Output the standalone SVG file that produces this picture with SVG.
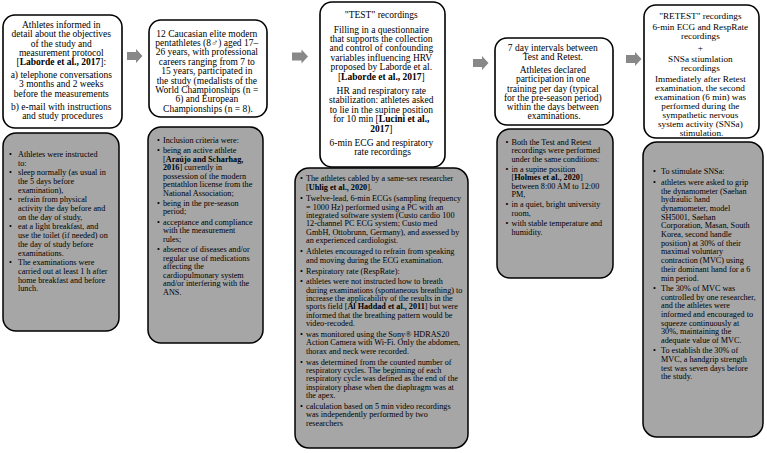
<svg xmlns="http://www.w3.org/2000/svg" width="767" height="453" viewBox="0 0 767 453">
<style>
.wb{fill:#fff;stroke:#000;stroke-width:1.6}
.gb{fill:#a6a6a6;stroke:#000;stroke-width:1.5}
.t{font-family:"Liberation Serif","Times New Roman",serif;font-size:9.5px;fill:#000;text-anchor:middle}
.t2{font-size:9.2px}
.g{font-family:"Liberation Serif","Times New Roman",serif;font-size:8.2px;fill:#000}
.b{font-weight:bold}
.arr{fill:#888}
</style>
<rect width="767" height="453" fill="#fff"/>
<g id="connectors">
<path class="arr" d="M127,52 H136 V49 L142.5,56 L136,63 V60 H127 Z"/>
<path class="arr" d="M292,52.5 H301.5 V49.5 L308,56.5 L301.5,63.5 V60.5 H292 Z"/>
<path class="arr" d="M473,59 H482 V56 L488.5,63 L482,70 V67 H473 Z"/>
<path class="arr" d="M626,55 H635 V52 L641.5,59 L635,66 V63 H626 Z"/>
</g>
<g id="n1">
<rect class="wb" x="3" y="15" width="119" height="113" rx="12"/>
<text class="t">
<tspan x="62.5" y="28.2">Athletes informed in</tspan>
<tspan x="62.5" y="37.4">detail about the objectives</tspan>
<tspan x="62.5" y="46.6">of the study and</tspan>
<tspan x="62.5" y="55.8">measurement protocol</tspan>
<tspan x="62.5" y="65">[<tspan class="b">Laborde et al., 2017</tspan>]:</tspan>
<tspan x="62.5" y="78.2">a) telephone conversations</tspan>
<tspan x="62.5" y="87.4">3 months and 2 weeks</tspan>
<tspan x="62.5" y="96.6">before the measurements</tspan>
<tspan x="62.5" y="109.8">b) e-mail with instructions</tspan>
<tspan x="62.5" y="119">and study procedures</tspan>
</text>
</g>
<g id="n1b">
<rect class="gb" x="3" y="133" width="116" height="198" rx="13"/>
<text class="g">
<tspan x="9" y="156.8">•</tspan><tspan x="18" y="156.8">Athletes were instructed</tspan>
<tspan x="18" y="165.5">to:</tspan>
<tspan x="9" y="175.2">•</tspan><tspan x="18" y="175.2">sleep normally (as usual in</tspan>
<tspan x="18" y="183.9">the 5 days before</tspan>
<tspan x="18" y="192.6">examination),</tspan>
<tspan x="9" y="202.3">•</tspan><tspan x="18" y="202.3">refrain from physical</tspan>
<tspan x="18" y="211">activity the day before and</tspan>
<tspan x="18" y="219.7">on the day of study,</tspan>
<tspan x="9" y="229.4">•</tspan><tspan x="18" y="229.4">eat a light breakfast, and</tspan>
<tspan x="18" y="238.1">use the toilet (if needed) on</tspan>
<tspan x="18" y="246.8">the day of study before</tspan>
<tspan x="18" y="255.5">examinations.</tspan>
<tspan x="9" y="265.2">•</tspan><tspan x="18" y="265.2">The examinations were</tspan>
<tspan x="18" y="273.9">carried out at least 1 h after</tspan>
<tspan x="18" y="282.6">home breakfast and before</tspan>
<tspan x="18" y="291.3">lunch.</tspan>
</text>
</g>
<g id="n2">
<rect class="wb" x="149" y="20" width="118" height="97" rx="12"/>
<text class="t">
<tspan x="208" y="36.5">12 Caucasian elite modern</tspan>
<tspan x="208" y="45.9">pentathletes (8♂) aged 17–</tspan>
<tspan x="208" y="55.3">26 years, with professional</tspan>
<tspan x="208" y="64.7">careers ranging from 7 to</tspan>
<tspan x="208" y="74.1">15 years, participated in</tspan>
<tspan x="208" y="83.5">the study (medalists of the</tspan>
<tspan x="208" y="92.9">World Championships (n =</tspan>
<tspan x="208" y="102.3">6) and European</tspan>
<tspan x="208" y="111.7">Championships (n = 8).</tspan>
</text>
</g>
<g id="n2b">
<rect class="gb" x="148" y="127" width="115" height="216" rx="13"/>
<text class="g">
<tspan x="157" y="142.8">•</tspan><tspan x="163" y="142.8">Inclusion criteria were:</tspan>
<tspan x="157" y="153.1">•</tspan><tspan x="163" y="153.1">being an active athlete</tspan>
<tspan x="163" y="161.6">[<tspan class="b">Araújo and Scharhag,</tspan></tspan>
<tspan x="163" y="170.1"><tspan class="b">2016</tspan>] currently in</tspan>
<tspan x="163" y="178.6">possession of the modern</tspan>
<tspan x="163" y="187.1">pentathlon license from the</tspan>
<tspan x="163" y="195.6">National Association;</tspan>
<tspan x="157" y="205.9">•</tspan><tspan x="163" y="205.9">being in the pre-season</tspan>
<tspan x="163" y="214.4">period;</tspan>
<tspan x="157" y="224.7">•</tspan><tspan x="163" y="224.7">acceptance and compliance</tspan>
<tspan x="163" y="233.2">with the measurement</tspan>
<tspan x="163" y="241.7">rules;</tspan>
<tspan x="157" y="252">•</tspan><tspan x="163" y="252">absence of diseases and/or</tspan>
<tspan x="163" y="260.5">regular use of medications</tspan>
<tspan x="163" y="269">affecting the</tspan>
<tspan x="163" y="277.5">cardiopulmonary system</tspan>
<tspan x="163" y="286">and/or interfering with the</tspan>
<tspan x="163" y="294.5">ANS.</tspan>
</text>
</g>
<g id="n3">
<rect class="wb" x="320" y="2" width="125" height="165" rx="12"/>
<text class="t">
<tspan x="382.5" y="18.2">"TEST" recordings</tspan>
<tspan x="382.5" y="32.6">Filling in a questionnaire</tspan>
<tspan x="382.5" y="42">that supports the collection</tspan>
<tspan x="382.5" y="51.4">and control of confounding</tspan>
<tspan x="382.5" y="60.8">variables influencing HRV</tspan>
<tspan x="382.5" y="70.2">proposed by Laborde et al.</tspan>
<tspan x="382.5" y="79.6">[<tspan class="b">Laborde et al., 2017</tspan>]</tspan>
<tspan x="382.5" y="94">HR and respiratory rate</tspan>
<tspan x="382.5" y="103.4">stabilization: athletes asked</tspan>
<tspan x="382.5" y="112.8">to lie in the supine position</tspan>
<tspan x="382.5" y="122.2">for 10 min [<tspan class="b">Lucini et al.,</tspan></tspan>
<tspan x="382.5" y="131.6"><tspan class="b">2017</tspan>]</tspan>
<tspan x="382.5" y="146">6-min ECG and respiratory</tspan>
<tspan x="382.5" y="155.4">rate recordings</tspan>
</text>
</g>
<g id="n3b">
<rect class="gb" x="295" y="168" width="173" height="280" rx="14"/>
<text class="g">
<tspan x="300" y="181.1">•</tspan><tspan x="306" y="181.1">The athletes cabled by a same-sex researcher</tspan>
<tspan x="306" y="189.8">[<tspan class="b">Uhlig et al., 2020</tspan>].</tspan>
<tspan x="300" y="201.1">•</tspan><tspan x="306" y="201.1">Twelve-lead, 6-min ECGs (sampling frequency</tspan>
<tspan x="306" y="209.5">= 1000 Hz) performed using a PC with an</tspan>
<tspan x="306" y="217.9">integrated software system (Custo cardio 100</tspan>
<tspan x="306" y="226.3">12-channel PC ECG system; Custo med</tspan>
<tspan x="306" y="234.7">GmbH, Ottobrunn, Germany), and assessed by</tspan>
<tspan x="306" y="243.1">an experienced cardiologist.</tspan>
<tspan x="300" y="254.1">•</tspan><tspan x="306" y="254.1">Athletes encouraged to refrain from speaking</tspan>
<tspan x="306" y="262.5">and moving during the ECG examination.</tspan>
<tspan x="300" y="273.5">•</tspan><tspan x="306" y="273.5">Respiratory rate (RespRate):</tspan>
<tspan x="300" y="284.2">•</tspan><tspan x="306" y="284.2">athletes were not instructed how to breath</tspan>
<tspan x="306" y="292.6">during examinations (spontaneous breathing) to</tspan>
<tspan x="306" y="301">increase the applicability of the results in the</tspan>
<tspan x="306" y="309.4">sports field [<tspan class="b">Al Haddad et al., 2011</tspan>] but were</tspan>
<tspan x="306" y="317.8">informed that the breathing pattern would be</tspan>
<tspan x="306" y="326.2">video-recoded.</tspan>
<tspan x="300" y="337">•</tspan><tspan x="306" y="337">was monitored using the Sony® HDRAS20</tspan>
<tspan x="306" y="345.4">Action Camera with Wi-Fi. Only the abdomen,</tspan>
<tspan x="306" y="353.8">thorax and neck were recorded.</tspan>
<tspan x="300" y="364.6">•</tspan><tspan x="306" y="364.6">was determined from the counted number of</tspan>
<tspan x="306" y="373">respiratory cycles. The beginning of each</tspan>
<tspan x="306" y="381.4">respiratory cycle was defined as the end of the</tspan>
<tspan x="306" y="389.8">inspiratory phase when the diaphragm was at</tspan>
<tspan x="306" y="398.2">the apex.</tspan>
<tspan x="300" y="409">•</tspan><tspan x="306" y="409">calculation based on 5 min video recordings</tspan>
<tspan x="306" y="417.4">was independently performed by two</tspan>
<tspan x="306" y="425.8">researchers</tspan>
</text>
</g>
<g id="n4">
<rect class="wb" x="495" y="38" width="118" height="87" rx="12"/>
<text class="t">
<tspan x="554" y="51.2">7 day intervals between</tspan>
<tspan x="554" y="60.4">Test and Retest.</tspan>
<tspan x="554" y="73.2">Athletes declared</tspan>
<tspan x="554" y="82.4">participation in one</tspan>
<tspan x="554" y="91.6">training per day (typical</tspan>
<tspan x="554" y="100.8">for the pre-season period)</tspan>
<tspan x="554" y="110">within the days between</tspan>
<tspan x="554" y="119.2">examinations.</tspan>
</text>
</g>
<g id="n4b">
<rect class="gb" x="497" y="129" width="116" height="149" rx="13"/>
<text class="g">
<tspan x="505.5" y="144.8">•</tspan><tspan x="511.5" y="144.8">Both the Test and Retest</tspan>
<tspan x="511.5" y="153.3">recordings were performed</tspan>
<tspan x="511.5" y="161.8">under the same conditions:</tspan>
<tspan x="505.5" y="171.6">•</tspan><tspan x="511.5" y="171.6">in a supine position</tspan>
<tspan x="511.5" y="180.1">[<tspan class="b">Holmes et al., 2020</tspan>]</tspan>
<tspan x="511.5" y="188.6">between 8:00 AM to 12:00</tspan>
<tspan x="511.5" y="197.1">PM,</tspan>
<tspan x="505.5" y="207.3">•</tspan><tspan x="511.5" y="207.3">in a quiet, bright university</tspan>
<tspan x="511.5" y="215.8">room,</tspan>
<tspan x="505.5" y="226">•</tspan><tspan x="511.5" y="226">with stable temperature and</tspan>
<tspan x="511.5" y="234.5">humidity.</tspan>
</text>
</g>
<g id="n5">
<rect class="wb" x="644" y="5" width="115" height="133" rx="12"/>
<text class="t t2">
<tspan x="701.5" y="18.7">"RETEST" recordings</tspan>
<tspan x="701.5" y="30.1">6-min ECG and RespRate</tspan>
<tspan x="701.5" y="39.1">recordings</tspan>
<tspan x="701.5" y="50.5">+</tspan>
<tspan x="701.5" y="61.9">SNSa stiumlation</tspan>
<tspan x="701.5" y="70.9">recordings</tspan>
<tspan x="701.5" y="82.3">Immediately after Retest</tspan>
<tspan x="701.5" y="91.3">examination, the second</tspan>
<tspan x="701.5" y="100.3">examination (6 min) was</tspan>
<tspan x="701.5" y="109.3">performed during the</tspan>
<tspan x="701.5" y="118.3">sympathetic nervous</tspan>
<tspan x="701.5" y="127.3">system activity (SNSa)</tspan>
<tspan x="701.5" y="136.3">stimulation.</tspan>
</text>
</g>
<g id="n5b">
<rect class="gb" x="643" y="142" width="120" height="295" rx="14"/>
<text class="g">
<tspan x="653" y="173.8">•</tspan><tspan x="661" y="173.8">To stimulate SNSa:</tspan>
<tspan x="653" y="184.8">•</tspan><tspan x="661" y="184.8">athletes were asked to grip</tspan>
<tspan x="661" y="193.5">the dynamometer (Saehan</tspan>
<tspan x="661" y="202.2">hydraulic hand</tspan>
<tspan x="661" y="210.9">dynamometer, model</tspan>
<tspan x="661" y="219.6">SH5001, Saehan</tspan>
<tspan x="661" y="228.3">Corporation, Masan, South</tspan>
<tspan x="661" y="237">Korea, second handle</tspan>
<tspan x="661" y="245.7">position) at 30% of their</tspan>
<tspan x="661" y="254.4">maximal voluntary</tspan>
<tspan x="661" y="263.1">contraction (MVC) using</tspan>
<tspan x="661" y="271.8">their dominant hand for a 6</tspan>
<tspan x="661" y="280.5">min period.</tspan>
<tspan x="653" y="290.8">•</tspan><tspan x="661" y="290.8">The 30% of MVC was</tspan>
<tspan x="661" y="299.5">controlled by one researcher,</tspan>
<tspan x="661" y="308.2">and the athletes were</tspan>
<tspan x="661" y="316.9">informed and encouraged to</tspan>
<tspan x="661" y="325.6">squeeze continuously at</tspan>
<tspan x="661" y="334.3">30%, maintaining the</tspan>
<tspan x="661" y="343">adequate value of MVC.</tspan>
<tspan x="653" y="353.3">•</tspan><tspan x="661" y="353.3">To establish the 30% of</tspan>
<tspan x="661" y="362">MVC, a handgrip strength</tspan>
<tspan x="661" y="370.7">test was seven days before</tspan>
<tspan x="661" y="379.4">the study.</tspan>
</text>
</g>
</svg>
